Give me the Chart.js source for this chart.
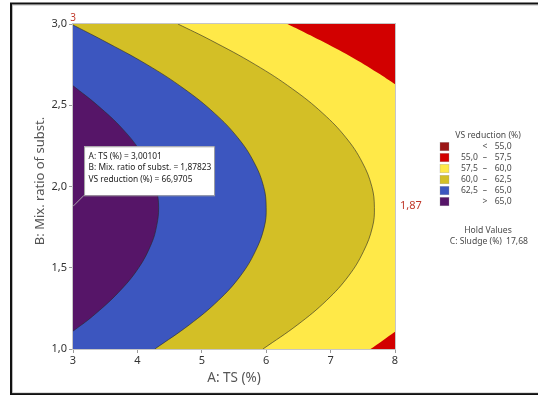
<!DOCTYPE html>
<html>
<head>
<meta charset="utf-8">
<script src="https://cdn.jsdelivr.net/npm/chart.js@4/dist/chart.umd.min.js"></script>
<style>
  html, body { margin: 0; padding: 0; background: #fff; overflow: hidden; }
  canvas { display: block; }
</style>
</head>
<body>
<canvas id="contour" width="538" height="396"></canvas>
<script>
// Design space
const tsRange = [3, 8];          // A: TS (%)
const ratioRange = [1, 3];       // B: Mix. ratio of subst.

// Contour boundaries of VS reduction (%): TS value on each boundary at the listed mixing ratios
const c65Ratio = [1.11, 1.20, 1.35, 1.50, 1.65, 1.76, 1.87, 1.98, 2.05, 2.20, 2.35, 2.50, 2.62];
const c65TS    = [3.00, 3.30, 3.71, 4.02, 4.22, 4.30, 4.33, 4.30, 4.25, 4.07, 3.78, 3.38, 3.00];

const c625Ratio = [1.00, 1.15, 1.30, 1.45, 1.60, 1.75, 1.87, 2.00, 2.15, 2.30, 2.45, 2.60, 2.75, 2.90, 3.00];
const c625TS    = [4.27, 4.81, 5.26, 5.60, 5.83, 5.97, 6.00, 5.96, 5.81, 5.56, 5.20, 4.73, 4.15, 3.46, 2.97];

const c60Ratio = [1.00, 1.15, 1.30, 1.45, 1.60, 1.75, 1.87, 2.00, 2.15, 2.30, 2.45, 2.60, 2.75, 2.90, 3.00];
const c60TS    = [5.95, 6.49, 6.94, 7.28, 7.51, 7.65, 7.68, 7.64, 7.49, 7.24, 6.88, 6.41, 5.83, 5.14, 4.63];

const c575TopRatio = [2.63, 2.70, 2.80, 2.90, 2.95, 3.00];
const c575TopTS    = [8.00, 7.73, 7.31, 6.84, 6.59, 6.33];
const c575BotRatio = [1.000, 1.050, 1.106];
const c575BotTS    = [7.62, 7.80, 8.00];

// Legend bands
const bandLow    = [null, 55.0, 57.5, 60.0, 62.5, 65.0];
const bandHigh   = [55.0, 57.5, 60.0, 62.5, 65.0, null];
const bandColors = ['#9b1515', '#d20000', '#ffe948', '#d3bf26', '#3c56bf', '#561568'];

// Crosshair readout and hold value
const crossTS = 3.00101;
const crossRatio = 1.87823;
const crossVS = 66.9705;
const holdLabel = 'C: Sludge (%)';
const holdValue = 17.68;

const FONT = "'Noto Sans', 'Open Sans', sans-serif";
const fmt = (v, d) => v.toFixed(d).replace('.', ',');
const pts = (ts, ratio) => ratio.map((r, i) => ({ x: ts[i], y: r }));

const bandDataset = (data, color, fillTo, order, line) => ({
  data,
  fill: { value: fillTo },
  backgroundColor: color,
  borderColor: line ? 'rgba(40,40,40,0.75)' : 'rgba(0,0,0,0)',
  borderWidth: line ? 0.8 : 0,
  pointRadius: 0,
  tension: 0.4,
  order
});

const datasets = [
  bandDataset([{ x: tsRange[1], y: ratioRange[0] }, { x: tsRange[1], y: ratioRange[1] }], bandColors[2], tsRange[0], 6, false),
  bandDataset(pts(c575TopTS, c575TopRatio), bandColors[1], tsRange[1], 5, false),
  bandDataset(pts(c575BotTS, c575BotRatio), bandColors[1], tsRange[1], 5, false),
  bandDataset(pts(c60TS, c60Ratio), bandColors[3], tsRange[0], 4, true),
  bandDataset(pts(c625TS, c625Ratio), bandColors[4], tsRange[0], 3, true),
  bandDataset(pts(c65TS, c65Ratio), bandColors[5], tsRange[0], 2, true)
];

const pageFrame = {
  id: 'pageFrame',
  beforeDraw(chart) {
    const { ctx } = chart;
    ctx.save();
    ctx.fillStyle = '#fff';
    ctx.fillRect(0, 0, chart.width, chart.height);
    ctx.strokeStyle = '#111';
    ctx.lineWidth = 2;
    ctx.strokeRect(11, 3.5, 560, 390.5);
    ctx.strokeStyle = 'rgba(120,120,120,0.5)';
    ctx.lineWidth = 1;
    ctx.strokeRect(12.5, 5, 560, 388);
    ctx.restore();
  }
};

const readout = {
  id: 'readout',
  afterDatasetsDraw(chart) {
    const { ctx, chartArea: a, scales: { x, y } } = chart;
    ctx.save();
    ctx.strokeStyle = '#c6c6c6';
    ctx.lineWidth = 1;
    ctx.strokeRect(a.left - 0.5, a.top - 0.5, a.right - a.left + 1, a.bottom - a.top + 1);

    const px = x.getPixelForValue(crossTS);
    const py = y.getPixelForValue(crossRatio);
    const bx = px + 11, by = py - 60, bw = 130, bh = 49;
    ctx.strokeStyle = 'rgba(180,180,180,0.9)';
    ctx.beginPath();
    ctx.moveTo(px, py);
    ctx.lineTo(bx, by + bh);
    ctx.stroke();
    ctx.fillStyle = '#fff';
    ctx.fillRect(bx, by, bw, bh);
    ctx.strokeStyle = '#a0a0a0';
    ctx.strokeRect(bx + 0.5, by + 0.5, bw, bh);
    ctx.fillStyle = '#222';
    ctx.font = `8.4px ${FONT}`;
    ctx.textBaseline = 'middle';
    ctx.textAlign = 'left';
    const lines = [
      `A: TS (%) = ${fmt(crossTS, 5)}`,
      `B: Mix. ratio of subst. = ${fmt(crossRatio, 5)}`,
      `VS reduction (%) = ${fmt(crossVS, 4)}`
    ];
    lines.forEach((t, i) => ctx.fillText(t, bx + 4.5, by + 10.5 + i * 11.2));
    ctx.restore();
  },
  afterDraw(chart) {
    const { ctx, chartArea: a, scales: { x, y } } = chart;
    ctx.save();
    // vertical axis title
    ctx.fillStyle = '#555';
    ctx.font = `13px ${FONT}`;
    ctx.textAlign = 'center';
    ctx.textBaseline = 'middle';
    ctx.translate(40, 181);
    ctx.rotate(-Math.PI / 2);
    ctx.fillText('B: Mix. ratio of subst.', 0, 0);
    ctx.setTransform(1, 0, 0, 1, 0, 0);

    // crosshair coordinates in red
    ctx.fillStyle = '#c0392b';
    ctx.font = `10px ${FONT}`;
    ctx.textAlign = 'center';
    ctx.fillText(String(Math.floor(crossTS * 100) / 100).replace('.', ','), x.getPixelForValue(crossTS), a.top - 6);
    ctx.font = `11px ${FONT}`;
    ctx.textAlign = 'left';
    ctx.fillText(fmt(Math.floor(crossRatio * 100) / 100, 2), a.right + 5, y.getPixelForValue(crossRatio));

    // legend
    ctx.fillStyle = '#4a4a4a';
    ctx.font = `8.6px ${FONT}`;
    ctx.textAlign = 'center';
    ctx.fillText('VS reduction (%)', 488, 135.5);
    bandColors.forEach((c, i) => {
      const cy = 146.3 + i * 11;
      ctx.fillStyle = c;
      ctx.fillRect(440, cy - 4, 9, 8.5);
      ctx.strokeStyle = 'rgba(150,150,150,0.6)';
      ctx.lineWidth = 0.5;
      ctx.strokeRect(440, cy - 4, 9, 8.5);
      ctx.fillStyle = '#4a4a4a';
      ctx.textAlign = 'center';
      const sym = bandLow[i] === null ? '<' : (bandHigh[i] === null ? '>' : '\u2013');
      ctx.fillText(sym, 485, cy);
      if (bandLow[i] !== null && bandHigh[i] !== null) {
        ctx.textAlign = 'right';
        ctx.fillText(fmt(bandLow[i], 1), 478, cy);
      }
      ctx.textAlign = 'left';
      ctx.fillText(fmt(bandHigh[i] === null ? bandLow[i] : bandHigh[i], 1), 494.7, cy);
    });

    // hold values
    ctx.textAlign = 'center';
    ctx.fillText('Hold Values', 488, 230.5);
    ctx.textAlign = 'left';
    ctx.fillText(holdLabel, 449.7, 241.5);
    ctx.fillText(fmt(holdValue, 2), 506, 241.5);
    ctx.restore();
  }
};

new Chart(document.getElementById('contour'), {
  type: 'line',
  data: { datasets },
  options: {
    indexAxis: 'y',
    responsive: false,
    animation: false,
    events: [],
    layout: { padding: { left: 0, top: 24, right: 143, bottom: 0 } },
    plugins: { legend: { display: false }, tooltip: { enabled: false } },
    scales: {
      x: {
        type: 'linear',
        min: tsRange[0],
        max: tsRange[1],
        ticks: { stepSize: 1, color: '#333', padding: 1, font: { family: FONT, size: 11 } },
        grid: { drawOnChartArea: false, color: '#9a9a9a', tickLength: 4 },
        border: { display: true, color: '#c6c6c6' },
        title: { display: true, text: 'A: TS (%)', color: '#555', font: { family: FONT, size: 13.5 }, padding: { top: 0, bottom: 10 } },
        afterFit(s) { s.height = 47; }
      },
      y: {
        type: 'linear',
        min: ratioRange[0],
        max: ratioRange[1],
        ticks: { stepSize: 0.5, color: '#333', padding: 2, font: { family: FONT, size: 11 }, callback: v => fmt(v, 1) },
        grid: { drawOnChartArea: false, color: '#9a9a9a', tickLength: 4 },
        border: { display: true, color: '#c6c6c6' },
        title: { display: false },
        afterFit(s) { s.width = 73; }
      }
    }
  },
  plugins: [pageFrame, readout]
});
</script>
</body>
</html>
